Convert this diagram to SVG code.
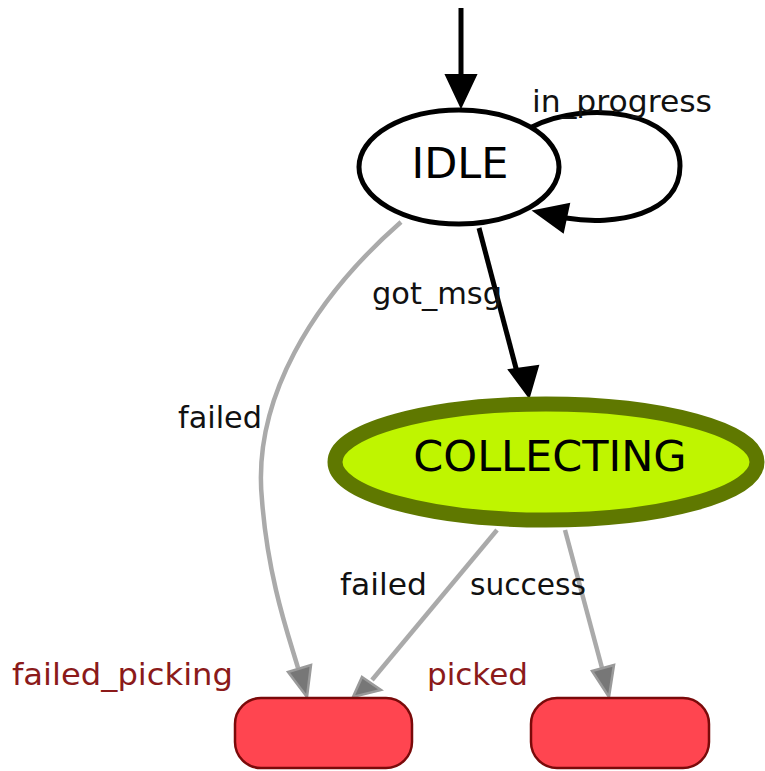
<svg xmlns="http://www.w3.org/2000/svg" width="765" height="771" viewBox="0 0 765 771">
  <style>
    .lbl { font-family: "DejaVu Sans", "Liberation Sans", sans-serif; font-size: 31px; fill: #111; }
    .end { fill: #8b1a1a; }
    .strong { fill: none; stroke: #000; stroke-width: 5; }
    .strong-head { fill: #000; stroke: #000; stroke-width: 2; stroke-linejoin: miter; }
    .weak { fill: none; stroke: #aaaaaa; stroke-width: 4.5; }
    .weak-head { fill: #777777; stroke: #9a9a9a; stroke-width: 2.5; stroke-linejoin: miter; }
    .final { fill: #ff4550; stroke: #7a0a0a; stroke-width: 2.5; }
  </style>
  <rect width="765" height="771" fill="#fff"/>

  <g id="connectors">
    <!-- initial transition -->
    <path class="strong" d="M461,8 L461,78"/>
    <polygon class="strong-head" points="446,75 476,75 461,107"/>
    <!-- IDLE self loop: in_progress -->
    <path class="strong" d="M532,127 C585,100 680,110 680,166 C680,215 615,226 566,218"/>
    <polygon class="strong-head" points="569,204 563,232 534,211"/>
    <!-- IDLE -> COLLECTING: got_msg -->
    <path class="strong" d="M479,228 L517,372"/>
    <polygon class="strong-head" points="509,370 538,366 529,397"/>
    <!-- IDLE -> failed_picking: failed -->
    <path class="weak" d="M401,222 C312,300 252,400 262,500 C268,580 290,640 298,668"/>
    <polygon class="weak-head" points="288,672 311,665 307,697"/>
    <!-- COLLECTING -> failed_picking: failed -->
    <path class="weak" d="M497,530 L372,680"/>
    <polygon class="weak-head" points="362,677 381,690 353,697"/>
    <!-- COLLECTING -> picked: success -->
    <path class="weak" d="M565,530 L602,668"/>
    <polygon class="weak-head" points="592,671 614,665 609,697"/>

    <text class="lbl" x="532" y="112" textLength="180" lengthAdjust="spacingAndGlyphs">in_progress</text>
    <text class="lbl" x="372" y="304" textLength="130" lengthAdjust="spacingAndGlyphs">got_msg</text>
    <text class="lbl" x="178" y="428" textLength="84" lengthAdjust="spacingAndGlyphs">failed</text>
    <text class="lbl" x="340" y="595" textLength="87" lengthAdjust="spacingAndGlyphs">failed</text>
    <text class="lbl" x="470" y="595" textLength="116" lengthAdjust="spacingAndGlyphs">success</text>
  </g>

  <g id="IDLE">
    <ellipse cx="459" cy="167" rx="100" ry="57" fill="#fff" stroke="#000" stroke-width="5"/>
    <text x="460" y="178" text-anchor="middle" font-family="DejaVu Sans, sans-serif" font-size="43" fill="#000">IDLE</text>
  </g>

  <g id="COLLECTING">
    <ellipse cx="546" cy="462" rx="211" ry="58" fill="#bff500" stroke="#5f7800" stroke-width="15"/>
    <text x="550" y="471" text-anchor="middle" font-family="DejaVu Sans, sans-serif" font-size="43" fill="#000">COLLECTING</text>
  </g>

  <g id="failed_picking">
    <rect class="final" x="235" y="698" width="177" height="70" rx="26" ry="26"/>
    <text class="lbl end" x="12" y="685" textLength="221" lengthAdjust="spacingAndGlyphs">failed_picking</text>
  </g>

  <g id="picked">
    <rect class="final" x="531" y="698" width="178" height="70" rx="26" ry="26"/>
    <text class="lbl end" x="427" y="685" textLength="101" lengthAdjust="spacingAndGlyphs">picked</text>
  </g>
</svg>
